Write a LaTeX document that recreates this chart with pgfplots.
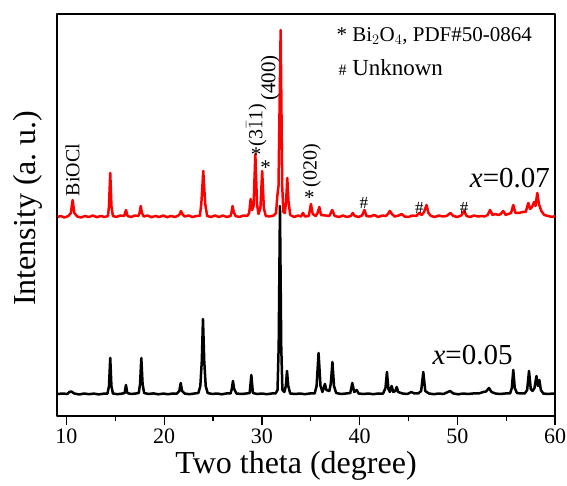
\documentclass[border=0pt]{standalone}
\usepackage{pgfplots}
\pgfplotsset{compat=1.18}
\usepackage{fontspec}
\setmainfont{Liberation Serif}

% XRD patterns, intensity read off in pixel units (baseline black ~22, red ~199)
\newcommand{\fs}[1]{\rmfamily\fontsize{#1}{#1}\selectfont}

\begin{document}
\begin{tikzpicture}
\useasboundingbox (-57pt,-70pt) rectangle (510pt,416pt);
\begin{axis}[
  at={(0,0)}, anchor=south west,
  scale only axis, width=498pt, height=402pt,
  xmin=9.03, xmax=60, ymin=0, ymax=402,
  ytick=\empty,
  xtick={10,20,...,60}, minor xtick={15,25,...,55},
  xtick pos=bottom, tick align=outside,
  major tick length=9pt, minor tick length=5pt,
  axis line style={line width=1.3pt},
  every tick/.style={line width=1.3pt, black},
  xticklabel style={font=\fs{22}},
  /pgf/number format/assume math mode=true,
  xlabel={Two theta (degree)},
  xlabel style={font=\fs{32}, at={(axis description cs:0.48,-0.124)}, anchor=center},
  ylabel={Intensity (a.\ u.)},
  ylabel style={font=\fs{32}, at={(axis description cs:-0.059,0.517)}, anchor=center},
  clip=false,
  line join=round,
]
\addplot[black, line width=2.5pt] coordinates {
(9.1,22)(9.6,22.5)(10.1,22)(10.3,24)(10.5,24.5)(10.8,22.5)(11.3,21.5)(11.8,22.5)(12.3,21.8)(12.8,22.4)(13.3,21.6)(13.8,22.3)(14.2,22.5)(14.35,30)(14.48,58)(14.6,30)(14.75,22.5)(15.2,21.8)(15.7,22.4)(15.95,23)(16.09,31)(16.22,23)(16.6,22)(17.1,22.5)(17.4,23)(17.53,32)(17.66,58)(17.79,32)(17.95,23)(18.4,22)(18.9,22.6)(19.4,21.7)(19.9,22.4)(20.4,21.8)(20.9,22.5)(21.3,22.4)(21.55,25)(21.69,33)(21.83,25)(22.1,22.4)(22.6,21.8)(23.1,22.5)(23.5,23)(23.7,30)(23.85,55)(23.97,97)(24.1,55)(24.25,30)(24.45,23)(24.9,22)(25.4,22.5)(25.9,21.7)(26.4,22.6)(26.8,22.6)(26.92,27)(27.04,35)(27.16,27)(27.4,22.5)(27.9,22)(28.4,22.5)(28.75,23)(28.92,41)(29.08,23)(29.5,22)(30.0,22.5)(30.5,21.8)(31.0,22.5)(31.4,22.5)(31.6,26)(31.72,70)(31.85,210)(31.98,70)(32.1,26)(32.3,24)(32.45,30)(32.57,45)(32.7,30)(32.9,22.5)(33.4,22)(33.9,22.5)(34.4,21.8)(34.9,22.5)(35.4,22.5)(35.6,30)(35.8,63)(36.0,30)(36.2,24)(36.32,28)(36.45,32)(36.6,26)(36.9,25)(37.05,32)(37.22,54)(37.38,30)(37.6,23)(38.1,22)(38.6,22.5)(39.05,23)(39.25,33)(39.45,24)(39.7,26)(39.9,22.5)(40.4,22)(40.9,22.5)(41.4,21.8)(41.9,22.5)(42.4,22.4)(42.65,28)(42.8,44)(42.95,27)(43.1,24)(43.28,30)(43.45,24)(43.65,25)(43.8,29)(43.95,24)(44.4,22.5)(44.9,22)(45.3,24)(45.6,22.5)(46.0,22.5)(46.3,25)(46.52,44)(46.72,25)(47.1,22.5)(47.6,21.8)(48.1,22.5)(48.6,22)(49.25,25)(49.6,22.5)(50.1,21.7)(50.6,22.5)(51.1,22)(51.6,22.5)(52.2,22.5)(52.66,24)(52.95,24.5)(53.24,28)(53.5,24)(53.9,22.5)(54.4,22)(54.9,22.5)(55.4,22.5)(55.58,28)(55.73,46)(55.88,28)(56.1,23)(56.5,22.5)(56.9,22.5)(57.15,26)(57.34,45)(57.52,27)(57.7,25)(57.9,28)(58.1,40)(58.25,30)(58.4,36)(58.55,26)(58.8,22.5)(59.3,22)(59.8,22.5)(60,22)
};
\addplot[red, line width=2.5pt] coordinates {
(9.1,199)(9.4,200)(9.8,198.5)(10.2,200)(10.45,203)(10.63,216)(10.8,203)(11.1,199.5)(11.5,198.5)(11.9,200)(12.3,199)(12.7,200.5)(13.1,198.8)(13.5,200)(13.9,199)(14.25,200)(14.35,210)(14.48,243)(14.6,210)(14.75,200)(15.1,199)(15.5,200.5)(15.9,200)(16.09,206)(16.25,200)(16.6,199)(17.0,200.5)(17.35,200)(17.48,203)(17.6,210)(17.72,203)(17.9,199.5)(18.3,200.5)(18.7,198.8)(19.1,200)(19.5,199)(19.9,200.5)(20.3,198.8)(20.7,200)(21.1,199)(21.45,200.5)(21.6,202)(21.72,205)(21.85,202)(22.1,199.5)(22.5,200.5)(22.9,199)(23.3,200)(23.65,200)(23.8,212)(23.9,228)(24.0,245)(24.1,228)(24.2,212)(24.4,200)(24.8,199)(25.2,200.5)(25.6,199)(26.0,200.5)(26.4,199)(26.8,200)(26.9,204)(27.0,210)(27.12,204)(27.3,200)(27.7,199)(28.1,200.5)(28.5,200)(28.7,203)(28.85,217)(29.0,206)(29.15,210)(29.33,262)(29.5,212)(29.65,202)(29.85,208)(30.03,245)(30.2,208)(30.4,200)(30.8,199.5)(31.2,200.5)(31.45,203)(31.58,220)(31.7,230)(31.92,386)(32.08,230)(32.2,204)(32.35,203)(32.48,215)(32.6,238)(32.72,215)(32.9,201)(33.3,199)(33.7,200.5)(34.0,199.5)(34.2,203)(34.4,199.5)(34.8,200)(35.02,212)(35.2,202)(35.5,200)(35.7,203)(35.88,209)(36.05,201)(36.5,200.5)(36.9,200)(37.2,206)(37.45,200)(37.9,199)(38.3,200.5)(38.7,199)(39.1,200)(39.3,203)(39.5,200)(39.9,199)(40.25,200.5)(40.5,206)(40.7,200)(41.1,199.5)(41.5,201)(41.9,199)(42.3,200.5)(42.7,200)(42.9,202)(43.1,205)(43.3,202)(43.6,199.5)(44.0,200.5)(44.3,202)(44.6,199.5)(45.0,199)(45.4,200.5)(45.8,200)(46.1,203)(46.35,201)(46.6,204)(46.85,211)(47.05,203)(47.3,200)(47.7,199)(48.1,200.5)(48.5,199.5)(48.9,200)(49.3,203)(49.6,200)(50.0,199)(50.4,200.5)(50.7,205)(50.95,200)(51.3,199)(51.7,200.5)(52.1,199.5)(52.5,200)(52.8,199.5)(53.1,201)(53.35,206)(53.6,201)(53.9,202)(54.2,201)(54.45,202)(54.7,205)(54.95,201)(55.2,202)(55.5,203)(55.73,211)(55.95,203)(56.3,203)(56.7,204)(57.0,204)(57.27,213)(57.45,207)(57.65,209)(57.85,214)(58.0,210)(58.19,223)(58.35,212)(58.6,205)(58.9,201)(59.3,200)(59.7,199)(60,200)
};
% peak labels
\node[rotate=90, font=\fs{20}] at (axis cs:10.63,246) {BiOCl};
\node[font=\fs{21}] at (axis cs:29.4,261) {*};
\node[rotate=90, font=\fs{20}] at (axis cs:29.45,291) {(3$\bar{1}$1)};
\node[rotate=90, font=\fs{21}] at (axis cs:30.86,338) {(400)};
\node[font=\fs{21}] at (axis cs:30.39,248) {*};
\node[font=\fs{21}] at (axis cs:34.87,218) {*};
\node[rotate=90, font=\fs{20}] at (axis cs:35.1,250) {(020)};
\node[font=\fs{17}] at (axis cs:40.45,213) {\#};
\node[font=\fs{17}] at (axis cs:46.12,208) {\#};
\node[font=\fs{17}] at (axis cs:50.69,208) {\#};
\node[font=\fs{29}] at (axis cs:55.39,238) {\textit{x}=0.07};
\node[font=\fs{29}] at (axis cs:51.56,61) {\textit{x}=0.05};
\node[anchor=west, font=\fs{21}] at (axis cs:37.28,380) {* Bi$_2$O$_4$, PDF\#50-0864};
\node[anchor=west, font=\fs{23}] at (axis cs:37.48,348) {{\fs{16}\#} Unknown};
\end{axis}
\end{tikzpicture}
\end{document}
